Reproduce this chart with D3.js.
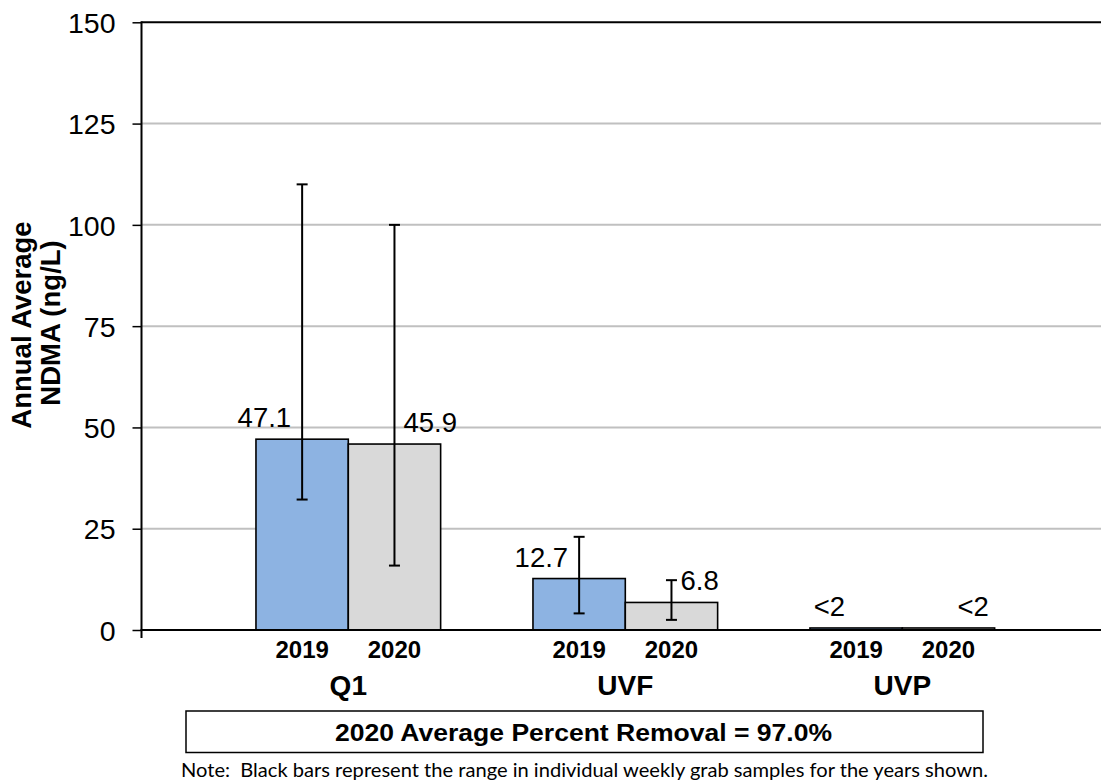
<!DOCTYPE html>
<html>
<head>
<meta charset="utf-8">
<script src="https://cdn.jsdelivr.net/npm/d3@7"></script>
<style>
  body { margin: 0; background: #fff; }
  text { font-family: "Liberation Sans", Arial, sans-serif; fill: #000; }
</style>
</head>
<body>
<script>
// data
var sites = ['Q1', 'UVF', 'UVP'];
var years = ['2019', '2020'];
var avg2019 = [47.1, 12.7, 0.5];
var avg2020 = [45.9, 6.8, 0.5];
var labels2019 = ['47.1', '12.7', '<2'];
var labels2020 = ['45.9', '6.8', '<2'];
var min2019 = [32.2, 4.1, null];
var max2019 = [110, 23, null];
var min2020 = [15.9, 2.5, null];
var max2020 = [100, 12.3, null];
var yTicks = [0, 25, 50, 75, 100, 125, 150];
var removalText = '2020 Average Percent Removal = 97.0%';
var noteText = 'Note:  Black bars represent the range in individual weekly grab samples for the years shown.';

var barColors = { '2019': '#8DB3E2', '2020': '#D9D9D9' };

// ----------------------------------------------------------------------------
// flatten into one row per bar
var rows = [];
sites.forEach(function ( s, i ) {
  rows.push({ site: s, year: '2019', value: avg2019[i], label: labels2019[i], lo: min2019[i], hi: max2019[i] });
  rows.push({ site: s, year: '2020', value: avg2020[i], label: labels2020[i], lo: min2020[i], hi: max2020[i] });
});

var width = 1101, height = 784;
var axisX = 141.5, plotRight = 1101;

var svg = d3.select('body').append('svg')
  .attr('width', width)
  .attr('height', height);

var y = d3.scaleLinear()
  .domain([0, 150])
  .range([630, 22.3]);

var x0 = d3.scaleBand()
  .domain(sites)
  .range([209.8, 1040.8])
  .paddingInner(1 / 3)
  .paddingOuter(1 / 6);

var x1 = d3.scaleBand()
  .domain(years)
  .range([0, x0.bandwidth()]);

// gridlines
svg.selectAll('line.grid')
  .data(yTicks.filter(function ( d ) { return d > 0 && d < 150; }))
  .enter()
  .append('line')
  .attr('class', 'grid')
  .attr('x1', axisX)
  .attr('x2', plotRight)
  .attr('y1', function ( d ) { return y(d); })
  .attr('y2', function ( d ) { return y(d); })
  .style('stroke', '#C0C0C0')
  .style('stroke-width', 2);

// top border
svg.append('line')
  .attr('x1', axisX).attr('x2', plotRight)
  .attr('y1', y(150)).attr('y2', y(150))
  .style('stroke', '#000').style('stroke-width', 2);

// y axis
var yAxis = d3.axisLeft(y)
  .tickValues(yTicks)
  .tickSize(9)
  .tickPadding(17)
  .tickFormat(d3.format('d'));

var yAxisG = svg.append('g')
  .attr('transform', 'translate(' + axisX + ',0)')
  .call(yAxis);
yAxisG.select('.domain').remove();
yAxisG.selectAll('.tick line').style('stroke', '#000').style('stroke-width', 1.5);
yAxisG.selectAll('.tick text')
  .style('font-size', '28.5px')
  .style('font-family', '"Liberation Sans", Arial, sans-serif')
  .attr('dy', '0.36em');

svg.append('line')
  .attr('x1', axisX).attr('x2', axisX)
  .attr('y1', y(150) - 1).attr('y2', 638)
  .style('stroke', '#000').style('stroke-width', 2);

// bars
var groups = svg.selectAll('g.site')
  .data(sites)
  .enter()
  .append('g')
  .attr('class', 'site')
  .attr('transform', function ( d ) { return 'translate(' + x0(d) + ',0)'; });

groups.selectAll('rect')
  .data(function ( s ) { return rows.filter(function ( r ) { return r.site === s; }); })
  .enter()
  .append('rect')
  .attr('x', function ( d ) { return x1(d.year); })
  .attr('width', x1.bandwidth())
  .attr('y', function ( d ) { return y(d.value); })
  .attr('height', function ( d ) { return y(0) - y(d.value); })
  .style('fill', function ( d ) { return barColors[d.year]; })
  .style('stroke', '#000')
  .style('stroke-width', 1.6);

// baseline
svg.append('line')
  .attr('x1', axisX - 1).attr('x2', plotRight)
  .attr('y1', y(0)).attr('y2', y(0))
  .style('stroke', '#000').style('stroke-width', 2);

// error bars (range of weekly samples)
var capHalf = 5.5;
var errRows = rows.filter(function ( d ) { return d.lo !== null; });
var cx = function ( d ) { return x0(d.site) + x1(d.year) + x1.bandwidth() / 2; };

svg.selectAll('line.err')
  .data(errRows)
  .enter()
  .append('line')
  .attr('x1', cx).attr('x2', cx)
  .attr('y1', function ( d ) { return y(d.lo); })
  .attr('y2', function ( d ) { return y(d.hi); })
  .style('stroke', '#000').style('stroke-width', 2);

['lo', 'hi'].forEach(function ( k ) {
  svg.selectAll('line.cap-' + k)
    .data(errRows)
    .enter()
    .append('line')
    .attr('x1', function ( d ) { return cx(d) - capHalf; })
    .attr('x2', function ( d ) { return cx(d) + capHalf; })
    .attr('y1', function ( d ) { return y(d[k]); })
    .attr('y2', function ( d ) { return y(d[k]); })
    .style('stroke', '#000').style('stroke-width', 2);
});

// value labels
svg.selectAll('text.val')
  .data(rows)
  .enter()
  .append('text')
  .attr('class', 'val')
  .attr('x', function ( d ) { return d.year === '2019' ? cx(d) - 11 : cx(d) + 9; })
  .attr('y', function ( d ) { return y(d.value) - 12; })
  .attr('text-anchor', function ( d ) { return d.year === '2019' ? 'end' : 'start'; })
  .style('font-size', '27.5px')
  .text(function ( d ) { return d.label; });

// year labels
svg.selectAll('text.year')
  .data(rows)
  .enter()
  .append('text')
  .attr('x', cx)
  .attr('y', 658)
  .attr('text-anchor', 'middle')
  .style('font-size', '24px')
  .style('font-weight', 'bold')
  .text(function ( d ) { return d.year; });

// site labels
svg.selectAll('text.site')
  .data(sites)
  .enter()
  .append('text')
  .attr('x', function ( d ) { return x0(d) + x0.bandwidth() / 2; })
  .attr('y', 695)
  .attr('text-anchor', 'middle')
  .style('font-size', '28px')
  .style('font-weight', 'bold')
  .text(function ( d ) { return d; });

// y axis title
svg.append('text')
  .attr('transform', 'translate(31,325) rotate(-90)')
  .attr('text-anchor', 'middle')
  .style('font-size', '27.5px')
  .style('font-weight', 'bold')
  .text('Annual Average');
svg.append('text')
  .attr('transform', 'translate(60,323) rotate(-90)')
  .attr('text-anchor', 'middle')
  .style('font-size', '27.5px')
  .style('font-weight', 'bold')
  .text('NDMA (ng/L)');

// removal box
svg.append('rect')
  .attr('x', 186).attr('y', 711)
  .attr('width', 797).attr('height', 41.5)
  .style('fill', '#fff')
  .style('stroke', '#000')
  .style('stroke-width', 1.5);
svg.append('text')
  .attr('x', 335).attr('y', 741)
  .attr('textLength', 497)
  .attr('lengthAdjust', 'spacingAndGlyphs')
  .style('font-size', '23px')
  .style('font-weight', 'bold')
  .text(removalText);

// note
svg.append('text')
  .attr('x', 181).attr('y', 777)
  .attr('textLength', 807)
  .attr('lengthAdjust', 'spacingAndGlyphs')
  .style('white-space', 'pre')
  .style('font-family', 'Lato, "Open Sans", sans-serif')
  .style('font-size', '20px')
  .text(noteText);
</script>
</body>
</html>
